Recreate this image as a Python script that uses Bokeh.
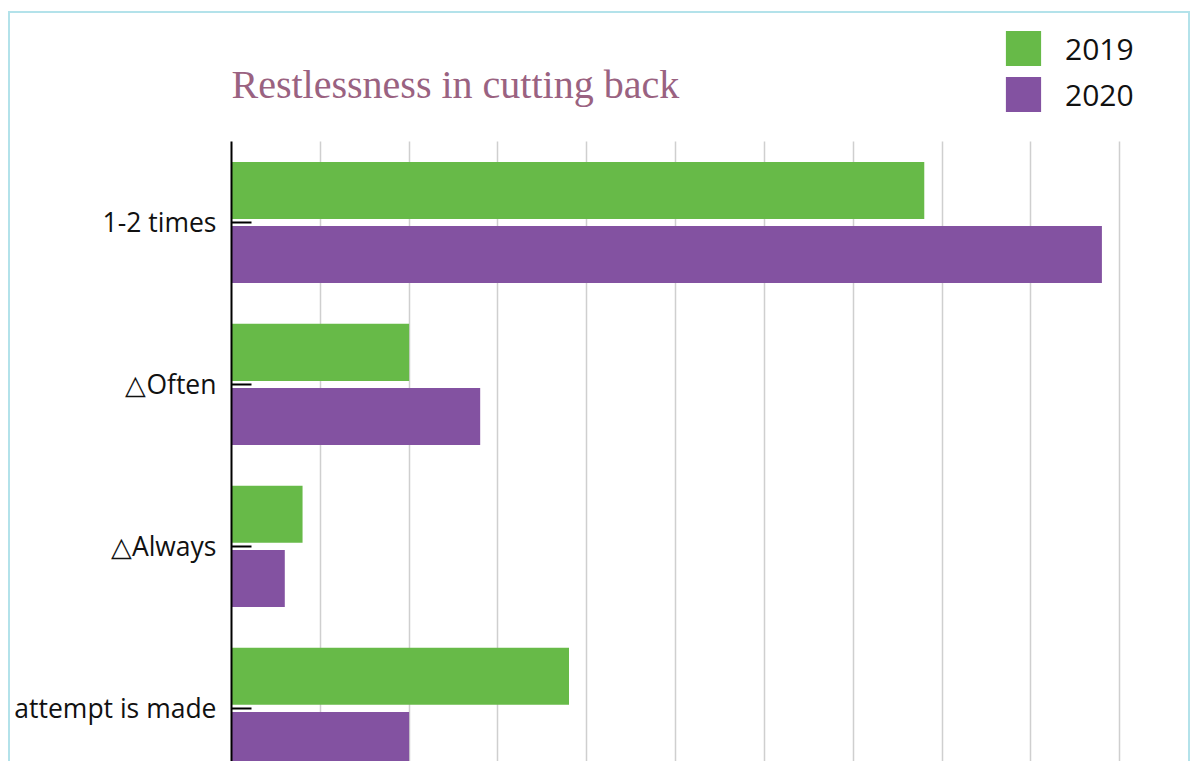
from bokeh.plotting import figure
from bokeh.models import (FixedTicker, Legend, LegendItem, Range1d,
                          ColumnDataSource, Label)
from bokeh.transform import dodge
from bokeh.embed import file_html
from bokeh.resources import INLINE

# ---- data ----
title_text = "Restlessness in cutting back"
categories = ["1-2 times", "△Often", "△Always", "attempt is made"]
values_2019 = [7.8, 2.0, 0.8, 3.8]
values_2020 = [9.8, 2.8, 0.6, 2.0]
series = ["2019", "2020"]
colors = ["#67BA48", "#8352A1"]
grid_ticks = list(range(0, 12))

n = len(categories)
ypos = [n - 1 - i for i in range(n)]

Y_START, Y_END = -0.34, 4.29
AXIS_TOP = n - 0.5

src = ColumnDataSource(dict(y=ypos, v2019=values_2019, v2020=values_2020))

p = figure(width=1182, height=750, output_backend="svg", toolbar_location=None,
           x_range=Range1d(0, 10.82), y_range=Range1d(Y_START, Y_END),
           min_border_left=221, min_border_top=0, min_border_bottom=0,
           min_border_right=0)
p.styles = {"border-top": "2px solid #B3E2EA", "border-left": "2px solid #B3E2EA",
            "border-right": "2px solid #B3E2EA", "margin-left": "8px",
            "margin-top": "11px"}
p.outline_line_color = None
p.background_fill_color = "white"
p.border_fill_color = "white"

r1 = p.hbar(y=dodge("y", 0.198), left=0, right="v2019", height=0.352,
            source=src, fill_color=colors[0], line_color=None)
r2 = p.hbar(y=dodge("y", -0.198), left=0, right="v2020", height=0.352,
            source=src, fill_color=colors[1], line_color=None)

# x axis hidden, only grid
p.xaxis.ticker = FixedTicker(ticks=grid_ticks)
p.xaxis.visible = False
p.xgrid.ticker = FixedTicker(ticks=grid_ticks)
p.xgrid.grid_line_color = "#CFCFCF"
p.xgrid.grid_line_width = 1.5
p.xgrid.cross_bounds = (Y_START, AXIS_TOP)
p.ygrid.grid_line_color = None

yax = p.yaxis[0]
yax.bounds = (Y_START, AXIS_TOP)
yax.ticker = FixedTicker(ticks=ypos)
yax.major_label_overrides = {y: c for y, c in zip(ypos, categories)}
yax.axis_line_color = "black"
yax.axis_line_width = 2
yax.major_tick_in = 20
yax.major_tick_out = 0
yax.major_tick_line_width = 2
yax.major_tick_line_color = "black"
yax.minor_tick_line_color = None
yax.major_label_text_font = "Open Sans"
yax.major_label_text_font_size = "26.5px"
yax.major_label_text_color = "#111111"
yax.major_label_standoff = 15

title = Label(x=0, y=679, x_units="data", y_units="screen", text=title_text,
              text_font="Liberation Serif", text_font_size="40px",
              text_color="#9A6281", text_align="left",
              text_baseline="alphabetic")
p.add_layout(title)

legend = Legend(items=[LegendItem(label=series[0], renderers=[r1]),
                       LegendItem(label=series[1], renderers=[r2])],
                location=(770, 647), glyph_width=44, glyph_height=44,
                label_standoff=20, spacing=2, padding=0, margin=0,
                border_line_color=None, background_fill_alpha=0,
                label_text_font="Open Sans", label_text_font_size="30px",
                label_height=44, label_text_color="#111111")
p.add_layout(legend)

open("out.html", "w").write(file_html(p, INLINE))
